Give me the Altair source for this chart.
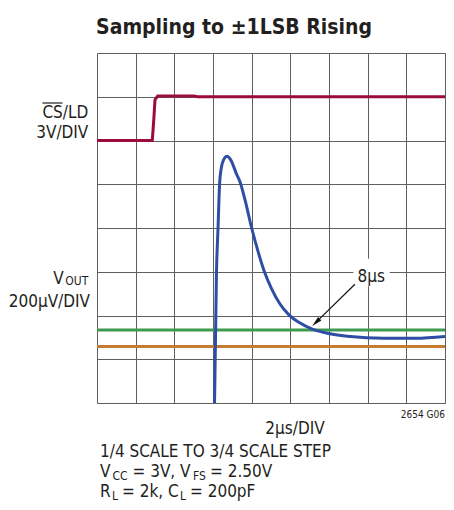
import altair as alt
import pandas as pd

# ---------------- data (x in 2µs divisions, y in screen divisions) ----------------
cs_x = [0.0, 1.43, 1.47, 1.50, 1.57, 2.5, 2.6, 9.0]
cs_y = [6.0, 6.0, 6.5, 6.93, 7.02, 7.02, 7.0, 7.0]

vout_x = [3.04, 3.09, 3.13, 3.17, 3.21, 3.28, 3.36, 3.45, 3.61, 3.70, 3.82, 4.0,
          4.17, 4.33, 4.51, 4.72, 4.97, 5.23, 5.57, 5.99, 6.55, 7.4, 8.24, 9.0]
vout_y = [0.0, 3.0, 4.0, 5.0, 5.35, 5.57, 5.64, 5.57, 5.23, 5.05, 4.67, 4.0,
          3.45, 3.0, 2.62, 2.28, 2.01, 1.84, 1.69, 1.59, 1.52, 1.48, 1.48, 1.52]

upper_band = [1.67]   # green limit
lower_band = [1.29]   # orange limit

x_ticks = list(range(10))
y_ticks = list(range(9))

title_text = "Sampling to ±1LSB Rising"
cs_label = ["CS/LD", "3V/DIV"]
vout_label = ["V", "OUT", "200µV/DIV"]
x_label = "2µs/DIV"
fig_id = "2654 G06"
note1 = "1/4 SCALE TO 3/4 SCALE STEP"
note2 = ["V", "CC", "= 3V, V", "FS", "= 2.50V"]
note3 = ["R", "L", "= 2k, C", "L", "= 200pF"]
ann_text = "8µs"
ann_tail = [6.67, 2.715]
ann_tip = [5.663, 1.842]
ann_pos = [7.09, 2.77]
ann_box = [6.63, 7.57, 2.67, 3.30]

# ---------------- styling ----------------
FONT = "DejaVu Sans Condensed"
RED = "#9b0b3b"
BLUE = "#2e4ea6"
GREEN = "#3e9a4e"
ORANGE = "#c67b33"
TXT = "#231f20"
FS = 17
SUB = 12

xs = alt.Scale(domain=[0, 9], nice=False, zero=False)
ys = alt.Scale(domain=[0, 8], nice=False, zero=False)
xax = alt.Axis(values=x_ticks, grid=True, labels=False, ticks=False, domain=False,
               title=None, gridColor="#5f5f5f", gridWidth=1, gridOpacity=1)
yax = alt.Axis(values=y_ticks, grid=True, labels=False, ticks=False, domain=False,
               title=None, gridColor="#5f5f5f", gridWidth=1, gridOpacity=1)


def X(f="x"):
    return alt.X(f"{f}:Q", scale=xs, axis=xax)


def Y(f="y"):
    return alt.Y(f"{f}:Q", scale=ys, axis=yax)


cs_df = pd.DataFrame({"x": cs_x, "y": cs_y})
vo_df = pd.DataFrame({"x": vout_x, "y": vout_y})

red = alt.Chart(cs_df).mark_line(color=RED, strokeWidth=3).encode(x=X(), y=Y())

green = alt.Chart(pd.DataFrame({"y": upper_band})).mark_rule(color=GREEN, strokeWidth=3).encode(y=Y())
orange = alt.Chart(pd.DataFrame({"y": lower_band})).mark_rule(color=ORANGE, strokeWidth=3).encode(y=Y())

blue = alt.Chart(vo_df).mark_line(color=BLUE, strokeWidth=3, interpolate="monotone", clip=True).encode(
    x=X(), y=Y())

box = alt.Chart(pd.DataFrame({"x": [ann_box[0]], "x2": [ann_box[1]],
                              "y": [ann_box[2]], "y2": [ann_box[3]]})).mark_rect(color="white").encode(
    x=X(), x2="x2:Q", y=Y(), y2="y2:Q")

ann = alt.Chart(pd.DataFrame({"x": [ann_pos[0]], "y": [ann_pos[1]], "t": [ann_text]})).mark_text(
    font=FONT, fontSize=FS, color=TXT, align="center", baseline="alphabetic").encode(
    x=X(), y=Y(), text="t:N")

arrow_line = alt.Chart(pd.DataFrame({"x": [ann_tail[0]], "y": [ann_tail[1]],
                                     "x2": [ann_tip[0]], "y2": [ann_tip[1]]})).mark_rule(
    color="#111", strokeWidth=1.2).encode(x=X(), y=Y(), x2="x2:Q", y2="y2:Q")

arrow_head = alt.Chart(pd.DataFrame({"x": [ann_tip[0]], "y": [ann_tip[1]]})).mark_point(
    shape="M0,-1L0.45,1L-0.45,1Z", size=110, filled=True, color="#111", opacity=1, angle=226).encode(
    x=X(), y=Y())


def label(text, x, y, size=FS, align="left", weight="normal"):
    return alt.Chart(pd.DataFrame({"t": [text]})).mark_text(
        font=FONT, fontSize=size, fontWeight=weight, color=TXT, align=align,
        baseline="alphabetic").encode(x=alt.value(x), y=alt.value(y), text="t:N")


texts = [
    label(title_text, 137, -19, size=21, align="center", weight="bold"),
    label(cs_label[0], -8.7, 64.6, align="right"),
    label(cs_label[1], -8.7, 84.8, align="right"),
    label(vout_label[0], -43.7, 231.4, align="left"),
    label(vout_label[1], -8.7, 231.7, size=SUB, align="right"),
    label(vout_label[2], -7, 253.9, align="right"),
    label(x_label, 198, 381, align="center"),
    label(fig_id, 348, 365, size=10, align="right"),
    label(note1, 3, 404),
    label(note2[0], 3, 424),
    label(note2[1], 15.5, 426.5, size=SUB),
    label(note2[2], 35.5, 424),
    label(note2[3], 96, 426.5, size=SUB),
    label(note2[4], 113, 424),
    label(note3[0], 3, 444),
    label(note3[1], 15, 446.5, size=SUB),
    label(note3[2], 25, 444),
    label(note3[3], 83, 446.5, size=SUB),
    label(note3[4], 93, 444),
]

overline = alt.Chart(pd.DataFrame({"a": [0]})).mark_rule(color=TXT, strokeWidth=1.2).encode(
    x=alt.value(-54.6), x2=alt.value(-34.5), y=alt.value(50.0))

chart = alt.layer(red, green, orange, blue, box, arrow_line, arrow_head, ann, overline, *texts).properties(
    width=348, height=350,
    padding={"left": 89, "top": 45, "right": 1, "bottom": 99},
    autosize=alt.AutoSizeParams(type="none"),
).configure_view(stroke="#222", strokeWidth=2).configure(background="white")

chart.save("out.html", embed_options={"renderer": "svg", "actions": False})
